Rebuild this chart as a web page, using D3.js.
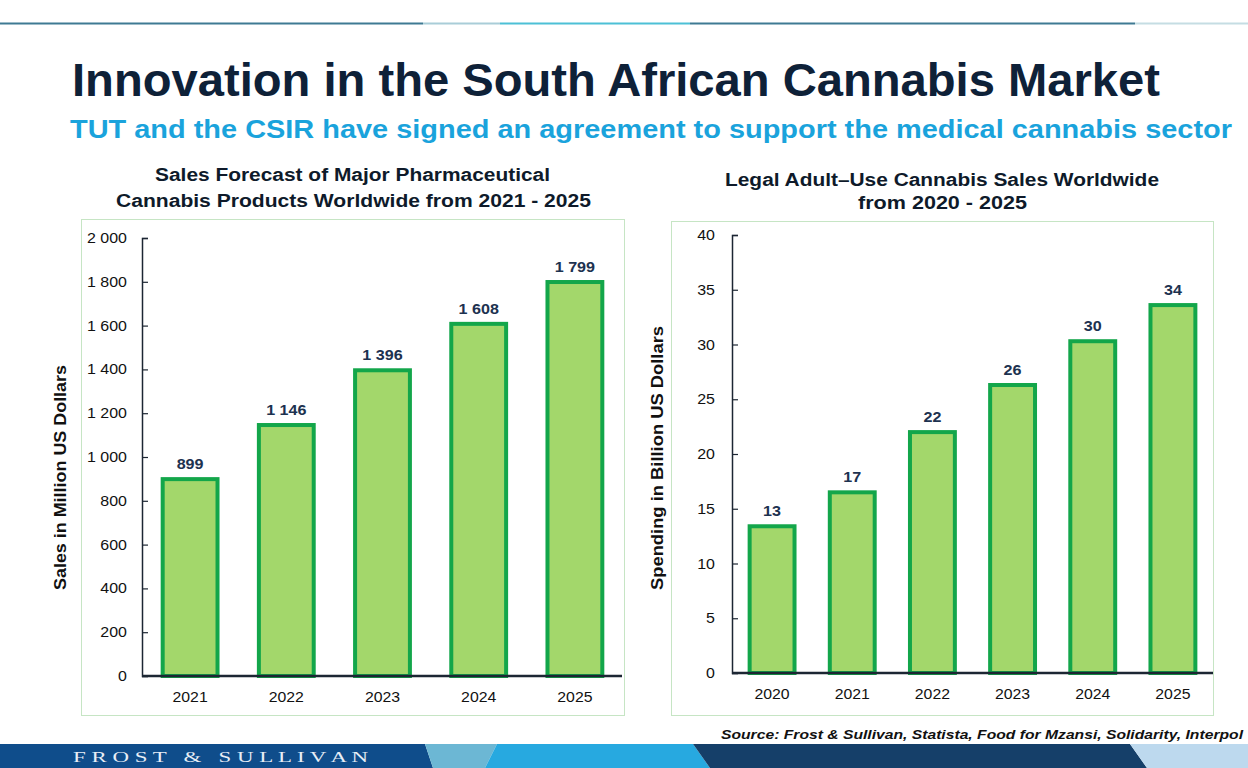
<!DOCTYPE html>
<html><head><meta charset="utf-8">
<script src="https://cdn.jsdelivr.net/npm/d3@7"></script>
<style>
body{margin:0;background:#fff;}
svg{display:block;font-family:"Liberation Sans",Arial,sans-serif;}
</style></head>
<body>
<svg id="c" width="1248" height="768"></svg>
<script>
const leftCategories = ["2021","2022","2023","2024","2025"];
const leftValues = [899,1146,1396,1608,1799];
const leftLabels = ["899","1 146","1 396","1 608","1 799"];
const leftTicks = [0,200,400,600,800,1000,1200,1400,1600,1800,2000];

const rightCategories = ["2020","2021","2022","2023","2024","2025"];
const rightValues = [13.4,16.5,22.0,26.3,30.3,33.6];
const rightLabels = ["13","17","22","26","30","34"];
const rightTicks = [0,5,10,15,20,25,30,35,40];

const svg = d3.select("#c");
const fmtSpace = v => d3.format(",")(v).replace(/,/g," ");
function stretch(sel,k){
  sel.each(function(){const w=this.getComputedTextLength();
    this.setAttribute("textLength",w*k);this.setAttribute("lengthAdjust","spacingAndGlyphs");});
  return sel;
}
function fit(sel,w){
  sel.attr("textLength",w).attr("lengthAdjust","spacingAndGlyphs");return sel;
}

// top rule
const topSegs = [[0,423,"#3f7a93"],[423,500,"#a9cdd8"],[500,690,"#4cc0d6"],[690,1135,"#3f7a93"],[1135,1248,"#c5dde3"]];
topSegs.forEach(s=>svg.append("rect").attr("x",s[0]).attr("y",22.5).attr("width",s[1]-s[0]).attr("height",2).attr("fill",s[2]));

// titles
fit(svg.append("text").attr("x",72).attr("y",96).attr("font-size",46).attr("font-weight","bold").attr("fill","#0e2138")
  .text("Innovation in the South African Cannabis Market"),1088);
fit(svg.append("text").attr("x",70).attr("y",138).attr("font-size",25).attr("font-weight","bold").attr("fill","#1aa3dc")
  .text("TUT and the CSIR have signed an agreement to support the medical cannabis sector"),1162);

function chart(o){
  const g = svg.append("g");
  g.append("rect").attr("x",o.box[0]+0.5).attr("y",o.box[1]+0.5).attr("width",o.box[2]-o.box[0]).attr("height",o.box[3]-o.box[1])
    .attr("fill","none").attr("stroke","#c6e5c4").attr("stroke-width",1);
  o.title.forEach((t,i)=>fit(g.append("text").attr("x",o.titleX[i]).attr("y",o.titleY[i]).attr("text-anchor","middle")
    .attr("font-size",18).attr("font-weight","bold").attr("fill","#0e1a2a").text(t),o.titleW[i]));
  const x = d3.scaleBand().domain(o.cats).range([o.x0,o.x1]).paddingInner(o.pad).paddingOuter(o.pad/2);
  const y = d3.scaleLinear().domain([0,o.max]).range([o.y0,o.y1]);
  // y axis
  const ya = g.append("g").attr("transform",`translate(${o.x0},0)`)
    .call(d3.axisRight(y).tickValues(o.ticks).tickSize(6).tickFormat(""));
  ya.select(".domain").attr("stroke","#1c2633").attr("stroke-width",1.5);
  ya.selectAll(".tick line").attr("stroke","#1c2633").attr("stroke-width",1.2);
  stretch(g.selectAll(".ytl").data(o.ticks).enter().append("text").attr("x",o.tickX).attr("y",d=>y(d)+5)
    .attr("text-anchor","end").attr("font-size",14).attr("fill","#111").text(o.fmt),1.14);
  // bars
  g.selectAll(".bar").data(o.vals).enter().append("rect")
    .attr("x",(d,i)=>x(o.cats[i])).attr("y",d=>y(d)).attr("width",x.bandwidth()).attr("height",d=>y(0)-y(d))
    .attr("fill","#a3d76b").attr("stroke","#13a64a").attr("stroke-width",4);
  stretch(g.selectAll(".lbl").data(o.vals).enter().append("text")
    .attr("x",(d,i)=>x(o.cats[i])+x.bandwidth()/2).attr("y",d=>y(d)-10).attr("text-anchor","middle")
    .attr("font-size",14).attr("font-weight","bold").attr("fill","#1d3250").text((d,i)=>o.labels[i]),1.15);
  // x axis
  const xa = g.append("g").attr("transform",`translate(0,${o.y0})`).call(d3.axisBottom(x).tickSize(0).tickFormat(""));
  xa.select(".domain").attr("stroke","#1c2633").attr("stroke-width",2.5).attr("d",`M${o.x0},0H${o.axEnd}`);
  stretch(g.selectAll(".xtl").data(o.cats).enter().append("text").attr("x",d=>x(d)+x.bandwidth()/2).attr("y",o.y0+26)
    .attr("text-anchor","middle").attr("font-size",14).attr("fill","#111").text(d=>d),1.13);
  fit(g.append("text").attr("transform",`translate(${o.yl[0]},${o.yl[1]}) rotate(-90)`).attr("text-anchor","middle")
    .attr("font-size",16).attr("font-weight","bold").attr("fill","#111").text(o.ylab),o.ylw);
}

chart({box:[81,219,624,715],title:["Sales Forecast of Major Pharmaceutical","Cannabis Products Worldwide from 2021 - 2025"],
  titleX:[352.5,353.5],titleY:[181,207],titleW:[395,475],cats:leftCategories,vals:leftValues,labels:leftLabels,ticks:leftTicks,max:2000,
  x0:142,x1:623,y0:676,y1:238,pad:0.43,axEnd:622,fmt:fmtSpace,tickX:127,ylab:"Sales in Million US Dollars",yl:[66,477.5],ylw:225});
chart({box:[671,221,1213,715],title:["Legal Adult\u2013Use Cannabis Sales Worldwide","from 2020 - 2025"],
  titleX:[942,942.5],titleY:[186,209],titleW:[434,169],cats:rightCategories,vals:rightValues,labels:rightLabels,ticks:rightTicks,max:40,
  x0:732,x1:1213,y0:673,y1:235,pad:0.44,axEnd:1213,fmt:d=>d,tickX:715,ylab:"Spending in Billion US Dollars",yl:[663,458],ylw:264});

// source
fit(svg.append("text").attr("x",1243).attr("y",739).attr("text-anchor","end").attr("font-size",13.5)
  .attr("font-weight","bold").attr("font-style","italic").attr("fill","#111")
  .text("Source: Frost & Sullivan, Statista, Food for Mzansi, Solidarity, Interpol"),522);

// footer band
const fy0=744, fy1=768;
const polys = [
  ["#0f4d8b",[[0,fy0],[425,fy0],[433,fy1],[0,fy1]]],
  ["#6cb7d4",[[425,fy0],[497,fy0],[485,fy1],[433,fy1]]],
  ["#27a9e0",[[497,fy0],[693,fy0],[710,fy1],[485,fy1]]],
  ["#153f69",[[693,fy0],[1130,fy0],[1147,fy1],[710,fy1]]],
  ["#bdd9ee",[[1130,fy0],[1248,fy0],[1248,fy1],[1147,fy1]]]
];
polys.forEach(p=>svg.append("polygon").attr("points",p[1].map(q=>q.join(",")).join(" ")).attr("fill",p[0]));
fit(svg.append("text").attr("x",73).attr("y",762).attr("font-family","'Liberation Serif','DejaVu Serif',serif")
  .attr("font-size",15).attr("fill","#e8eef6").text("F R O S T   &   S U L L I V A N").attr("xml:space","preserve"),295);
</script>
</body></html>
